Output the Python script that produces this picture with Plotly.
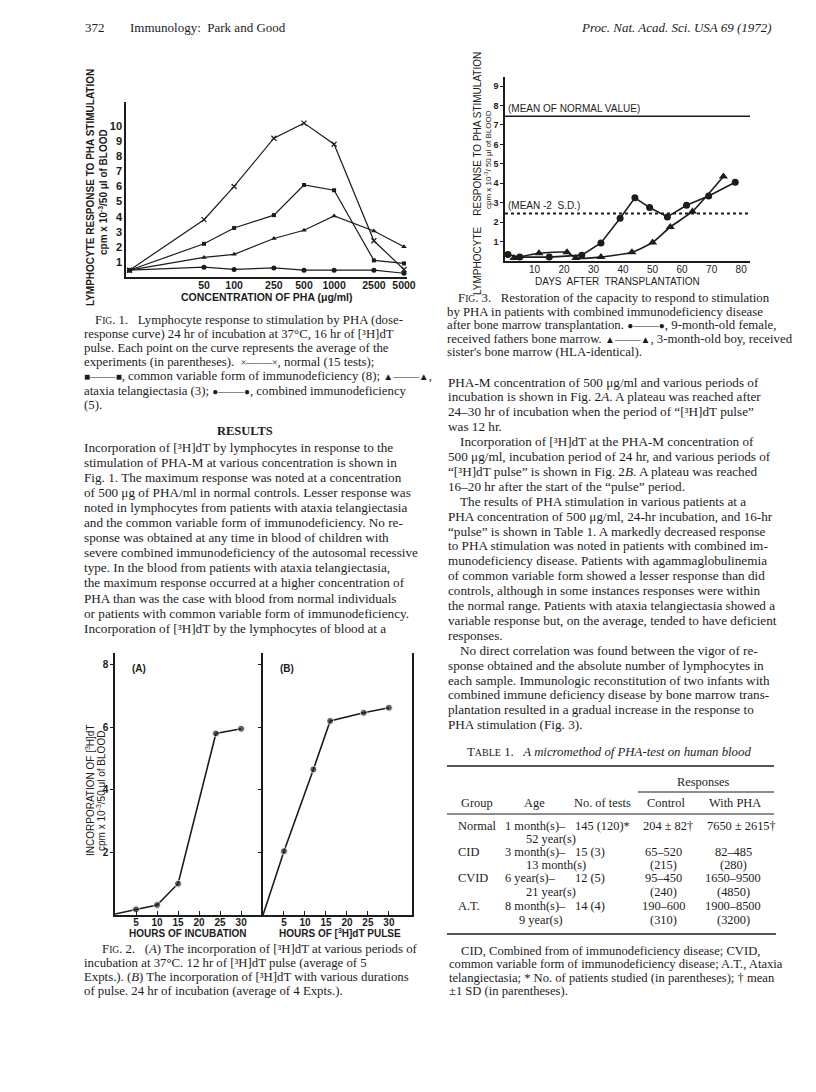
import plotly.graph_objects as go

W, H = 816, 1092
INK = "#1c1c1c"
SERIF = "Liberation Serif"
SANS = "Liberation Sans"

# ---- Fig. 1: dose response (cpm x 10^-3 / 50 ul blood) ----
PHA_CONC = [9, 50, 100, 250, 500, 1000, 2500, 5000]  # first = no-PHA baseline
PHA_TICKS = [50, 100, 250, 500, 1000, 2500, 5000]
NORMAL = [0.45, 3.8, 6.0, 9.2, 10.2, 8.8, 2.4, 0.5]
CVID = [0.45, 2.2, 3.25, 4.1, 6.1, 5.75, 1.1, 0.9]
ATAXIA = [0.45, 1.3, 1.5, 2.55, 3.1, 4.05, 3.05, 2.0]
COMBINED = [0.45, 0.65, 0.5, 0.6, 0.45, 0.45, 0.45, 0.25]

# ---- Fig. 2: (A) incubation period, (B) pulse duration ----
INCUB_HOURS = [0, 5, 10, 15, 24, 30]
INCUB_CPM = [0.03, 0.18, 0.32, 1.0, 5.8, 5.95]
PULSE_HOURS = [0, 5, 12, 16, 24, 30]
PULSE_CPM = [0.0, 2.04, 4.65, 6.2, 6.46, 6.62]
HOUR_TICKS = [5, 10, 15, 20, 25, 30]

# ---- Fig. 3: days after transplantation ----
GIRL_DAYS = [1, 5, 15, 26, 32.5, 39, 44, 49, 55, 61.5, 69, 78]
GIRL_CPM = [0.33, 0.2, 0.2, 0.3, 0.93, 2.2, 3.25, 2.75, 2.27, 2.87, 3.35, 4.05]
BOY_DAYS = [3, 11.5, 21, 24, 32.5, 43, 50, 56, 63.5, 74]
BOY_CPM = [0.15, 0.4, 0.45, 0.15, 0.2, 0.45, 0.95, 1.75, 2.55, 4.35]
NORMAL_MEAN = 7.45
MEAN_MINUS_2SD = 2.45
DAY_TICKS = [10, 20, 30, 40, 50, 60, 70, 80]

# ---- text ----
HEAD_LEFT = "372"
HEAD_TITLE = "Immunology:  Park and Good"
HEAD_RIGHT = "<i>Proc. Nat. Acad. Sci. USA 69 (1972)</i>"

SC = '<span style="font-size:9.5px">'


def sym(s):
    g = '<span style="font-size:10px">' + s + "</span>"
    return g + "——" + g


FIG1_CAPTION = [
    "F" + SC + "IG</span>. 1.   Lymphocyte response to stimulation by PHA (dose-",
    "response curve) 24 hr of incubation at 37°C, 16 hr of [³H]dT",
    "pulse. Each point on the curve represents the average of the",
    "experiments (in parentheses).  " + sym("×") + ", normal (15 tests);",
    sym("■") + ", common variable form of immunodeficiency (8); " + sym("▲") + ",",
    "ataxia telangiectasia (3); " + sym("●") + ", combined immunodeficiency",
    "(5).",
]
LEFT_BODY = [
    "Incorporation of [³H]dT by lymphocytes in response to the",
    "stimulation of PHA-M at various concentration is shown in",
    "Fig. 1. The maximum response was noted at a concentration",
    "of 500 μg of PHA/ml in normal controls. Lesser response was",
    "noted in lymphocytes from patients with ataxia telangiectasia",
    "and the common variable form of immunodeficiency. No re-",
    "sponse was obtained at any time in blood of children with",
    "severe combined immunodeficiency of the autosomal recessive",
    "type. In the blood from patients with ataxia telangiectasia,",
    "the maximum response occurred at a higher concentration of",
    "PHA than was the case with blood from normal individuals",
    "or patients with common variable form of immunodeficiency.",
    "Incorporation of [³H]dT by the lymphocytes of blood at a",
]
FIG2_CAPTION = [
    "F" + SC + "IG</span>. 2.   (<i>A</i>) The incorporation of [³H]dT at various periods of",
    "incubation at 37°C. 12 hr of [³H]dT pulse (average of 5",
    "Expts.). (<i>B</i>) The incorporation of [³H]dT with various durations",
    "of pulse. 24 hr of incubation (average of 4 Expts.).",
]
FIG3_CAPTION = [
    "F" + SC + "IG</span>. 3.   Restoration of the capacity to respond to stimulation",
    "by PHA in patients with combined immunodeficiency disease",
    "after bone marrow transplantation. " + sym("●") + ", 9-month-old female,",
    "received fathers bone marrow. " + sym("▲") + ", 3-month-old boy, received",
    "sister's bone marrow (HLA-identical).",
]
RIGHT_BODY = [
    "PHA-M concentration of 500 μg/ml and various periods of",
    "incubation is shown in Fig. 2<i>A</i>. A plateau was reached after",
    "24–30 hr of incubation when the period of “[³H]dT pulse”",
    "was 12 hr.",
    "Incorporation of [³H]dT at the PHA-M concentration of",
    "500 μg/ml, incubation period of 24 hr, and various periods of",
    "“[³H]dT pulse” is shown in Fig. 2<i>B</i>. A plateau was reached",
    "16–20 hr after the start of the “pulse” period.",
    "The results of PHA stimulation in various patients at a",
    "PHA concentration of 500 μg/ml, 24-hr incubation, and 16-hr",
    "“pulse” is shown in Table 1. A markedly decreased response",
    "to PHA stimulation was noted in patients with combined im-",
    "munodeficiency disease. Patients with agammaglobulinemia",
    "of common variable form showed a lesser response than did",
    "controls, although in some instances responses were within",
    "the normal range. Patients with ataxia telangiectasia showed a",
    "variable response but, on the average, tended to have deficient",
    "responses.",
    "No direct correlation was found between the vigor of re-",
    "sponse obtained and the absolute number of lymphocytes in",
    "each sample. Immunologic reconstitution of two infants with",
    "combined immune deficiency disease by bone marrow trans-",
    "plantation resulted in a gradual increase in the response to",
    "PHA stimulation (Fig. 3).",
]
RIGHT_INDENTED = [4, 8, 18]

TABLE_TITLE = "T" + '<span style="font-size:10px">ABLE</span>' + " 1.   <i>A micromethod of PHA-test on human blood</i>"
TABLE_HEAD = ["Group", "Age", "No. of tests", "Control", "With PHA"]
TABLE_GROUP = ["Normal", "CID", "CVID", "A.T."]
TABLE_AGE_FROM = ["1 month(s)–", "3 month(s)–", "6 year(s)–", "8 month(s)–"]
TABLE_AGE_TO = ["52 year(s)", "13 month(s)", "21 year(s)", "9 year(s)"]
TABLE_TESTS = ["145 (120)*", "15 (3)", "12 (5)", "14 (4)"]
TABLE_CONTROL = ["204 ± 82†", "65–520", "95–450", "190–600"]
TABLE_CONTROL_MEAN = ["", "(215)", "(240)", "(310)"]
TABLE_PHA = ["7650 ± 2615†", "82–485", "1650–9500", "1900–8500"]
TABLE_PHA_MEAN = ["", "(280)", "(4850)", "(3200)"]
TABLE_NOTE = [
    "CID, Combined from of immunodeficiency disease; CVID,",
    "common variable form of immunodeficiency disease; A.T., Ataxia",
    "telangiectasia; * No. of patients studied (in parentheses); † mean",
    "±1 SD (in parentheses).",
]


def px(x):
    return x / W


def py(y):
    return 1 - y / H


annotations = []
shapes = []


def text(x, y, s, size=13, anchor="left", family=SERIF, angle=0, bold=False):
    if not s:
        return
    annotations.append(dict(
        x=px(x), y=py(y), xref="paper", yref="paper", text=s, showarrow=False,
        xanchor=anchor, yanchor="middle", textangle=angle,
        font=dict(family=family, size=size, color=INK, weight="bold" if bold else "normal"),
    ))


def rule(x0, x1, y, width=1.2):
    shapes.append(dict(type="line", xref="paper", yref="paper",
                       x0=px(x0), x1=px(x1), y0=py(y), y1=py(y),
                       line=dict(color=INK, width=width)))


def axis(domain, rng, **kw):
    d = dict(domain=domain, range=rng, showline=True, linecolor=INK, linewidth=1.5,
             showgrid=False, zeroline=False, ticks="", fixedrange=True, automargin=False,
             tickfont=dict(family=SANS, size=10, color=INK, weight="bold"))
    d.update(kw)
    return d


fig = go.Figure()

# Fig. 1
line1 = dict(color=INK, width=1.2)
fig.add_trace(go.Scatter(x=PHA_CONC, y=NORMAL, mode="lines+markers", line=line1,
                         marker=dict(symbol="x-thin", size=5, line=dict(color=INK, width=1.2)),
                         xaxis="x", yaxis="y"))
fig.add_trace(go.Scatter(x=PHA_CONC, y=CVID, mode="lines+markers", line=line1,
                         marker=dict(symbol="square", size=4, color=INK), xaxis="x", yaxis="y"))
fig.add_trace(go.Scatter(x=PHA_CONC, y=ATAXIA, mode="lines+markers", line=line1,
                         marker=dict(symbol="triangle-up", size=5, color=INK), xaxis="x", yaxis="y"))
fig.add_trace(go.Scatter(x=PHA_CONC, y=COMBINED, mode="lines+markers", line=line1,
                         marker=dict(symbol="circle", size=5, color=INK), xaxis="x", yaxis="y"))

# Fig. 2
mk2 = [0] + [7] * (len(INCUB_HOURS) - 1)
fig.add_trace(go.Scatter(x=INCUB_HOURS, y=INCUB_CPM, mode="lines+markers",
                         line=dict(color=INK, width=1.6), marker=dict(size=mk2, color=INK),
                         xaxis="x2", yaxis="y2"))
fig.add_trace(go.Scatter(x=PULSE_HOURS, y=PULSE_CPM, mode="lines+markers",
                         line=dict(color=INK, width=1.6), marker=dict(size=mk2, color=INK),
                         xaxis="x3", yaxis="y3"))

# Fig. 3
fig.add_trace(go.Scatter(x=GIRL_DAYS, y=GIRL_CPM, mode="lines+markers",
                         line=dict(color=INK, width=1.6), marker=dict(size=7, color=INK),
                         xaxis="x4", yaxis="y4"))
fig.add_trace(go.Scatter(x=BOY_DAYS, y=BOY_CPM, mode="lines+markers",
                         line=dict(color=INK, width=1.6, shape="spline", smoothing=0.5),
                         marker=dict(symbol="triangle-up", size=8, color=INK),
                         xaxis="x4", yaxis="y4"))
shapes.append(dict(type="line", xref="x4 domain", yref="y4", x0=0, x1=1,
                   y0=NORMAL_MEAN, y1=NORMAL_MEAN, line=dict(color=INK, width=1.5)))
shapes.append(dict(type="line", xref="x4 domain", yref="y4", x0=0, x1=1,
                   y0=MEAN_MINUS_2SD, y1=MEAN_MINUS_2SD, line=dict(color=INK, width=2, dash="dot")))
annotations.append(dict(xref="x4 domain", yref="y4", x=0.005, y=NORMAL_MEAN, yanchor="bottom",
                        xanchor="left", showarrow=False, text="(MEAN OF NORMAL VALUE)",
                        font=dict(family=SANS, size=10, color=INK)))
annotations.append(dict(xref="x4 domain", yref="y4", x=0.005, y=MEAN_MINUS_2SD, yanchor="bottom",
                        xanchor="left", showarrow=False, text="(MEAN -2  S.D.)",
                        font=dict(family=SANS, size=10, color=INK)))

fig.update_layout(
    template="none",
    width=W, height=H, margin=dict(l=0, r=0, t=0, b=0),
    paper_bgcolor="white", plot_bgcolor="white", showlegend=False,
    xaxis=axis([px(126), px(407)], [0.919, 3.729], type="log",
               tickvals=PHA_TICKS, ticktext=[str(v) for v in PHA_TICKS], anchor="y",
               ticklabelstandoff=-2,
               tickfont=dict(family=SANS, size=10.5, color=INK, weight="bold")),
    yaxis=axis([py(277), py(102)], [0, 11.6], tickvals=list(range(1, 11)), anchor="x",
               tickfont=dict(family=SANS, size=11, color=INK, weight="bold")),
    xaxis2=axis([px(115), px(263)], [0, 35.2], tickvals=HOUR_TICKS, ticks="inside",
                ticklen=4, tickcolor=INK, anchor="y2", ticklabelstandoff=-3),
    yaxis2=axis([py(915), py(653)], [0, 8.37], tickvals=[2, 4, 6, 8], ticks="outside",
                ticklen=3, tickcolor=INK, anchor="x2"),
    xaxis3=axis([px(263), px(412)], [0, 35.5], tickvals=HOUR_TICKS, ticks="inside",
                ticklen=4, tickcolor=INK, anchor="y3", ticklabelstandoff=-3),
    yaxis3=axis([py(915), py(653)], [0, 8.37], tickvals=[2, 4, 6, 8], ticks="outside",
                ticklen=3, tickcolor=INK, showticklabels=False, mirror=True, anchor="x3"),
    xaxis4=axis([px(505), px(750)], [0, 83], tickvals=DAY_TICKS, anchor="y4",
                ticklabelstandoff=-2, tickfont=dict(family=SANS, size=10, color=INK)),
    yaxis4=axis([py(261), py(77)], [0, 9.47], tickvals=list(range(1, 10)), ticks="outside",
                ticklen=3, tickcolor=INK, anchor="x4",
                tickfont=dict(family=SANS, size=9, color=INK, weight="bold")),
)

# axis titles
text(90, 188, "LYMPHOCYTE RESPONSE TO PHA STIMULATION", 10, "center", SANS, -90, True)
text(103, 192, "cpm x 10<sup>-3</sup>/50 μl of BLOOD", 10, "center", SANS, -90, True)
text(267, 297, "CONCENTRATION OF PHA (μg/ml)", 10.5, "center", SANS, bold=True)
text(90, 790, "INCORPORATION OF [<sup>3</sup>H]dT", 10, "center", SANS, -90)
text(101, 791, "cpm x 10<sup>-3</sup>/50 μl of BLOOD", 10, "center", SANS, -90)
text(130, 668, "(A)", 10, "left", SANS, bold=True)
text(278, 668, "(B)", 10, "left", SANS, bold=True)
text(188, 933, "HOURS OF INCUBATION", 10, "center", SANS, bold=True)
text(340, 933, "HOURS OF [<sup>3</sup>H]dT PULSE", 10, "center", SANS, bold=True)
text(477, 174, "LYMPHOCYTE    RESPONSE TO PHA STIMULATION", 10, "center", SANS, -90)
text(488, 160, "cpm x 10<sup>-3</sup>/ 50 μl of BLOOD", 8, "center", SANS, -90)
text(617, 281, "DAYS  AFTER  TRANSPLANTATION", 10, "center", SANS)

# running head
text(83, 27, HEAD_LEFT, 13)
text(128, 27, HEAD_TITLE, 13)
text(774, 27, HEAD_RIGHT, 13, "right")

# captions and body
for i, s in enumerate(FIG1_CAPTION):
    text(93 if i == 0 else 82, 320 + 14.1 * i, s, 12.8)
text(245, 431, "RESULTS", 12.5, "center", bold=True)
for i, s in enumerate(LEFT_BODY):
    text(82, 447 + 15.1 * i, s, 13.2)
for i, s in enumerate(FIG2_CAPTION):
    text(100 if i == 0 else 82, 949 + 14 * i, s, 12.8)
for i, s in enumerate(FIG3_CAPTION):
    text(456 if i == 0 else 445, 298 + 13.6 * i, s, 12.8)
for i, s in enumerate(RIGHT_BODY):
    text(458 if i in RIGHT_INDENTED else 446, 382 + 14.9 * i, s, 13.2)

# table
TS = 12.4
text(465, 752, TABLE_TITLE, 12.8)
rule(447, 774, 766, 1.5)
text(703, 782, "Responses", TS, "center")
rule(638, 774, 792, 1)
for s, x in zip(TABLE_HEAD, [477, 534, 602, 666, 735]):
    text(x, 803, s, TS, "center")
rule(447, 774, 814, 1)
row_y = [826, 852, 878, 906]
sub_y = [839, 865, 892, 920]
for i, (y, y2) in enumerate(zip(row_y, sub_y)):
    text(456, y, TABLE_GROUP[i], TS)
    text(503, y, TABLE_AGE_FROM[i], TS)
    text(517 if i == 3 else 524, y2, TABLE_AGE_TO[i], TS)
    text(573, y, TABLE_TESTS[i], TS)
    if i == 0:
        text(641, y, TABLE_CONTROL[i], TS)
        text(705, y, TABLE_PHA[i], TS)
    else:
        text(663, y, TABLE_CONTROL[i], TS, "center")
        text(733, y, TABLE_PHA[i], TS, "center")
        text(663, y2, TABLE_CONTROL_MEAN[i], TS, "center")
        text(733, y2, TABLE_PHA_MEAN[i], TS, "center")
rule(447, 776, 934, 1.5)
for i, s in enumerate(TABLE_NOTE):
    text(459 if i == 0 else 447, 951 + 13.4 * i, s, 12.6)

fig.update_layout(annotations=annotations, shapes=shapes)
# drop the browser's default body margin so page pixels line up with the layout
fig.write_html("out.html", config={"displayModeBar": False},
               post_script="document.body.style.margin='0px';")
